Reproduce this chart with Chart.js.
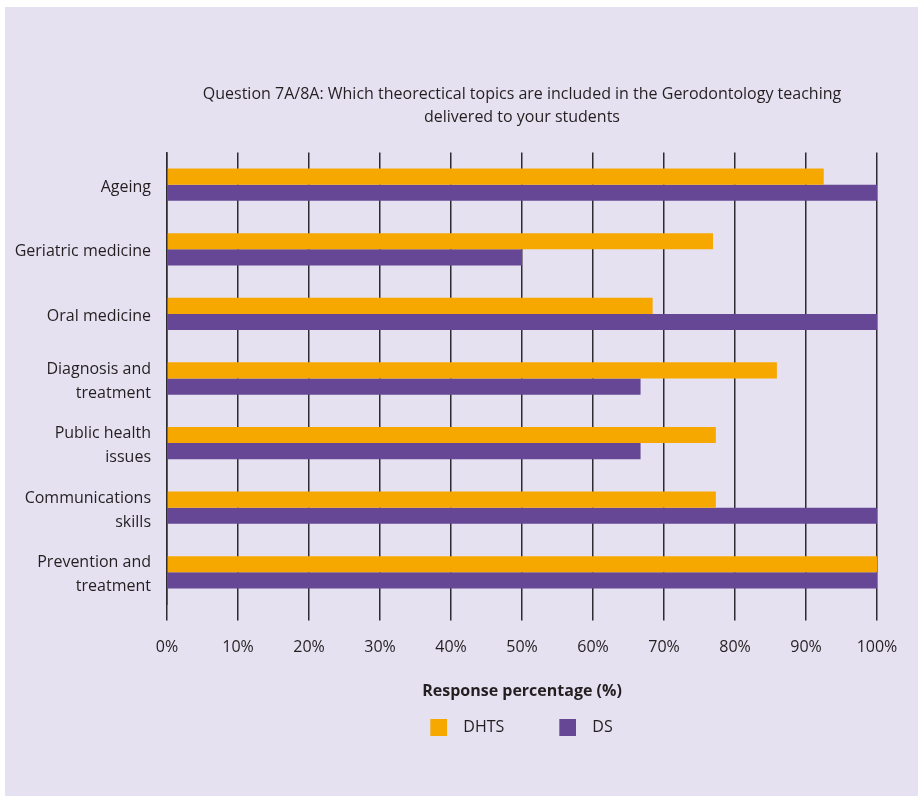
<!DOCTYPE html>
<html>
<head>
<meta charset="utf-8">
<script src="https://cdn.jsdelivr.net/npm/chart.js@4/dist/chart.umd.min.js"></script>
<style>
  html, body { margin: 0; padding: 0; background: #ffffff; }
  #box { position: absolute; left: 5px; top: 7px; width: 913px; height: 789px; background: #E5E1F1; }
  canvas { display: block; }
</style>
</head>
<body>
<div id="box"><canvas id="c" width="913" height="789"></canvas></div>
<script>
const categories = [
  'Ageing',
  'Geriatric medicine',
  'Oral medicine',
  ['Diagnosis and', 'treatment'],
  ['Public health', 'issues'],
  ['Communications', 'skills'],
  ['Prevention and', 'treatment']
];
const seriesNames = ['DHTS', 'DS'];
const dhtsValues = [92.5, 76.9, 68.4, 85.9, 77.3, 77.3, 100];
const dsValues = [100, 50, 100, 66.7, 66.7, 100, 100];
const xTickValues = [0, 10, 20, 30, 40, 50, 60, 70, 80, 90, 100];
const titleLines = ['Question 7A/8A: Which theorectical topics are included in the Gerodontology teaching', 'delivered to your students'];
const xAxisTitle = 'Response percentage (%)';

const ORANGE = '#F6A800';
const PURPLE = '#654795';
const FONT = "'Open Sans', 'Noto Sans', sans-serif";

// legend swatch: 17px square placed at the right end of a 54px-wide transparent image
function legendSwatch(color) {
  const cv = document.createElement('canvas');
  cv.width = 54;
  cv.height = 17;
  const g = cv.getContext('2d');
  g.fillStyle = color;
  g.fillRect(37, 0, 17, 17);
  return cv;
}

Chart.defaults.font.family = FONT;
Chart.defaults.color = '#231F20';

const legendShift = {
  id: 'legendShift',
  afterLayout(chart) {
    if (chart.legend) { chart.legend.left -= 23; chart.legend.right -= 23; }
  }
};

new Chart(document.getElementById('c'), {
  type: 'bar',
  data: {
    labels: categories,
    datasets: [
      { label: seriesNames[0], data: dhtsValues, backgroundColor: ORANGE, pointStyle: legendSwatch(ORANGE),
        categoryPercentage: 0.5, barPercentage: 1.0 },
      { label: seriesNames[1], data: dsValues, backgroundColor: PURPLE, pointStyle: legendSwatch(PURPLE),
        categoryPercentage: 0.5, barPercentage: 1.0 }
    ]
  },
  plugins: [legendShift],
  options: {
    indexAxis: 'y',
    responsive: false,
    animation: false,
    layout: { padding: { left: 0, right: 41, top: 0, bottom: 51 } },
    scales: {
      x: {
        min: 0, max: 100,
        afterBuildTicks: (s) => { s.ticks = xTickValues.map(v => ({ value: v })); },
        ticks: { callback: (v) => v + '%', font: { size: 16 }, padding: 17, maxRotation: 0, color: '#231F20' },
        grid: { color: '#2E2B30', lineWidth: 1.5, tickLength: 16, drawTicks: true },
        border: { display: false },
        title: { display: true, text: xAxisTitle, font: { size: 16, weight: 'bold' }, padding: { top: 8, bottom: 8 }, color: '#231F20' }
      },
      y: {
        afterFit: (s) => { s.width = 162; },
        ticks: { font: { size: 16, lineHeight: 1.5 }, padding: 16, labelOffset: 2.5, color: '#231F20' },
        grid: { display: false, drawTicks: false },
        border: { display: true, color: '#2E2B30', width: 1.5 }
      }
    },
    plugins: {
      title: {
        display: true,
        fullSize: false,
        text: titleLines,
        font: { size: 16, weight: 'normal', lineHeight: 1.45 },
        color: '#231F20',
        padding: { top: 76, bottom: 23 }
      },
      legend: {
        display: true,
        position: 'bottom',
        fullSize: false,
        labels: { usePointStyle: true, pointStyleWidth: 70, boxHeight: 16, font: { size: 16 }, padding: 10, color: '#231F20',
          generateLabels: (chart) => {
            const items = Chart.defaults.plugins.legend.labels.generateLabels(chart);
            items.forEach((it, i) => { it.pointStyle = chart.data.datasets[i].pointStyle; });
            return items;
          }
        }
      },
      tooltip: { enabled: false }
    }
  }
});
</script>
</body>
</html>
